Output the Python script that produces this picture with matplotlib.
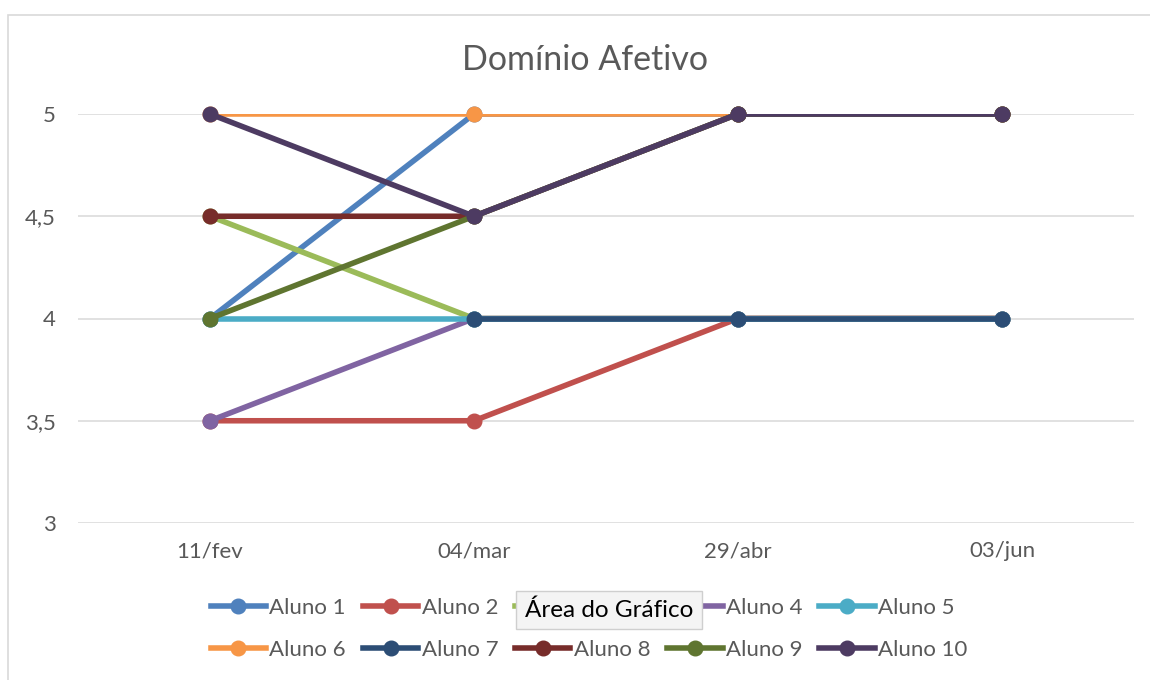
import matplotlib.pyplot as plt
import numpy as np
from matplotlib.lines import Line2D
from matplotlib.patches import Rectangle

plt.rcParams["font.family"] = ["Lato", "DejaVu Sans"]

dates = ["11/fev", "04/mar", "29/abr", "03/jun"]
y_ticks = [3, 3.5, 4, 4.5, 5]
y_tick_labels = ["3", "3,5", "4", "4,5", "5"]

names = ["Aluno 1", "Aluno 2", "Aluno 3", "Aluno 4", "Aluno 5",
         "Aluno 6", "Aluno 7", "Aluno 8", "Aluno 9", "Aluno 10"]
nan = np.nan
aluno_1 = [4, 5, 5, 5]
aluno_2 = [3.5, 3.5, 4, 4]
aluno_3 = [4.5, 4, 4, 4]
aluno_4 = [3.5, 4, 4, 4]
aluno_5 = [4, 4, 4, 4]
aluno_6 = [5, 5, 5, 5]
aluno_7 = [nan, 4, 4, 4]
aluno_8 = [4.5, 4.5, 5, 5]
aluno_9 = [4, 4.5, 5, 5]
aluno_10 = [5, 4.5, 5, 5]
series = [aluno_1, aluno_2, aluno_3, aluno_4, aluno_5,
          aluno_6, aluno_7, aluno_8, aluno_9, aluno_10]

colors = ["#4F81BD", "#C0504D", "#9BBB59", "#8064A2", "#4BACC6",
          "#F79646", "#2C4D75", "#772C2A", "#5F7530", "#4D3B62"]

fig = plt.figure(figsize=(11.5, 6.8), dpi=100)
ax = fig.add_axes([78 / 1150, 157 / 680, 1056 / 1150, 409 / 680])

# chart frame (partly visible in the screenshot)
fig.patches.append(Rectangle((8 / 1150, -0.05), 1.1, (680 - 15) / 680 + 0.05,
                             transform=fig.transFigure, fill=False,
                             edgecolor="#D9D9D9", linewidth=1.2))

x = np.arange(len(dates))
handles = []
for i, (vals, col) in enumerate(zip(series, colors)):
    ax.plot(x, vals, color=col, linewidth=4.0, solid_capstyle="round",
            zorder=3 + 2 * i)
    ax.plot(x, vals, linestyle="none", marker="o", markersize=10.5,
            color=col, clip_on=False, zorder=4 + 2 * i)
    handles.append(Line2D([], [], color=col, linewidth=4.0, marker="o",
                          markersize=10.5))

ax.set_xlim(-0.5, len(dates) - 0.5)
ax.set_ylim(3, 5)
ax.set_xticks(x)
ax.set_xticklabels(dates)
ax.set_yticks(y_ticks)
ax.set_yticklabels(y_tick_labels)
ax.tick_params(axis="both", length=0, labelsize=16, labelcolor="#595959")
ax.tick_params(axis="y", pad=16)
ax.tick_params(axis="x", pad=13)
ax.grid(axis="y", color="#D9D9D9", linewidth=1.1)
ax.set_axisbelow(True)
for s in ax.spines.values():
    s.set_visible(False)

fig.text(585 / 1150, 1 - 60 / 680, "Domínio Afetivo", ha="center",
         va="center", fontsize=24.5, color="#595959")

# legend in row order: 1-5 on top, 6-10 below
order = [0, 5, 1, 6, 2, 7, 3, 8, 4, 9]
fig.legend([handles[k] for k in order], [names[k] for k in order],
           loc="center", bbox_to_anchor=(589 / 1150, 1 - 629 / 680),
           ncol=5, frameon=False, fontsize=16, labelcolor="#595959",
           handlelength=2.5, handletextpad=0.15, columnspacing=0.75,
           labelspacing=1.0)

# tooltip seen in the screenshot
fig.text(609 / 1150, 1 - 610 / 680, "Área do Gráfico", ha="center",
         va="center", fontsize=17.5, color="black", zorder=50,
         bbox=dict(boxstyle="square,pad=0.35", facecolor="#F4F4F4",
                   edgecolor="#CFCFCF", linewidth=1))

fig.savefig("out.png", dpi=100)
